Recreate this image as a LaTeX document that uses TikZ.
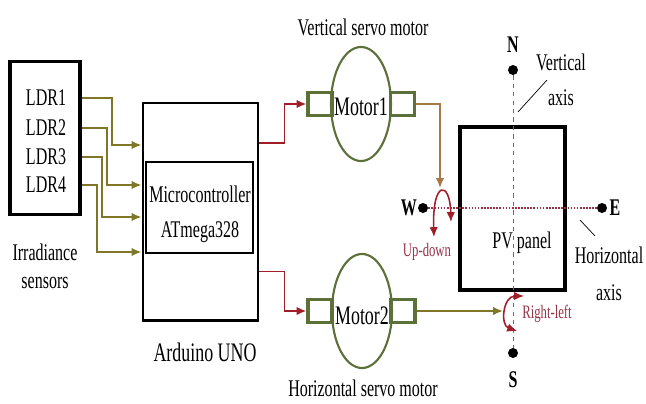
\documentclass[tikz,border=0pt]{standalone}
\usepackage{fontspec}
\setmainfont{Liberation Serif}[FakeStretch=0.67]
\usetikzlibrary{arrows.meta,positioning,shapes.geometric}
\definecolor{sensorolive}{RGB}{128,118,40}
\definecolor{motorgreen}{RGB}{92,112,58}
\definecolor{ctrlred}{RGB}{160,30,40}
\definecolor{shafttan}{RGB}{165,120,70}
\definecolor{labelred}{RGB}{150,50,70}
\definecolor{axisgray}{RGB}{130,100,100}

\begin{document}
\begin{tikzpicture}[x=0.025cm,y=-0.025cm,
    box/.style={draw,line width=2.1pt,inner sep=0pt},
    txt/.style={font=\fontsize{17}{22}\selectfont,inner sep=0pt,align=center},
    bigtxt/.style={font=\fontsize{19}{22}\selectfont,inner sep=0pt,align=center},
    redtxt/.style={font=\fontsize{13.5}{16}\selectfont,text=labelred,inner sep=0pt},
    compass/.style={font=\fontsize{17}{20}\selectfont\bfseries,inner sep=0pt},
    motor/.style={ellipse,draw=motorgreen,line width=1.5pt,minimum width=1.5cm,minimum height=2.85cm,inner sep=0pt},
    shaft/.style={draw=motorgreen,line width=2.2pt,minimum width=0.6cm,minimum height=0.58cm,inner sep=0pt},
    pole/.style={circle,fill=black,inner sep=0pt,minimum size=0.25cm},
    sense/.style={sensorolive,line width=1.3pt,-{Latex[length=7pt,width=6pt]}},
    ctrl/.style={ctrlred,line width=1.3pt,-{Latex[length=7pt,width=6pt]}},
    drive/.style={shafttan,line width=1.2pt,-{Latex[length=7pt,width=6pt]}},
    turn/.style={ctrlred,line width=1.1pt,{Latex[length=7pt,width=6pt]}-{Latex[length=7pt,width=6pt]}},
    leader/.style={black,line width=0.5pt}]
  \useasboundingbox (0,0) rectangle (646,403);

  % sensors
  \node[box,line width=2.8pt,minimum width=1.75cm,minimum height=3.825cm] (ldr) at (45,138) {};
  \foreach \i/\y in {1/98,2/128,3/157,4/185}
    \node[txt] (l\i) at (46,\y) {LDR\i};
  \node[txt,font=\fontsize{17}{20}\selectfont] (irr) at (45,266) {Irradiance\\sensors};

  % board
  \node[box,minimum width=2.875cm,minimum height=5.425cm] (uno) at (200.5,211.5) {};
  \node[box,line width=1.8pt,minimum width=2.675cm,minimum height=2.275cm] (mcu) at (199.5,207.5) {};
  \node[txt,font=\fontsize{17}{25}\selectfont] (mcutxt) at (200,214) {Microcontroller\\ATmega328};
  \node[bigtxt] (unotxt) at (205,352) {Arduino UNO};

  \foreach \i/\y in {1/145,2/185,3/217,4/252}
    \coordinate (in\i) at (uno.west |- 0,\y);
  \foreach \i/\d in {1/30,2/25,3/20,4/15}
    \draw[sense] (ldr.east |- l\i) -- ++(\d,0) |- (in\i);

  % servo motors
  \node[motor] (mot1) at (361,104) {};
  \node[shaft] (m1l) at (320,104) {};
  \node[shaft] (m1r) at (402.5,104) {};
  \node[bigtxt] (m1txt) at (361,107) {Motor1};
  \node[txt] (m1cap) at (363,27) {Vertical servo motor};

  \node[motor] (mot2) at (362,311) {};
  \node[shaft] (m2l) at (320,311) {};
  \node[shaft] (m2r) at (403,311) {};
  \node[bigtxt] (m2txt) at (362,316) {Motor2};
  \node[txt] (m2cap) at (363,388) {Horizontal servo motor};

  \draw[ctrl] ([yshift=1.71cm]uno.east) -- ++(25,0) |- (m1l.west);
  \draw[ctrl] ([yshift=-1.5cm]uno.east) -- ++(25,0) |- (m2l.west);

  % panel and axes
  \node[box,line width=2.6pt,minimum width=2.625cm,minimum height=4.075cm] (pv) at (512.5,208.5) {};
  \node[txt] (pvtxt) at (522,243) {PV panel};

  \node[pole] (n) at (513,70) {};
  \node[pole] (s) at (513,353) {};
  \node[pole] (w) at (423,208) {};
  \node[pole] (e) at (602,208) {};
  \node[compass] (ntxt) at (513,45) {N};
  \node[compass] (stxt) at (513,380) {S};
  \node[compass] (wtxt) at (409,208) {W};
  \node[compass] (etxt) at (615,208) {E};
  \draw[axisgray,dashed,line width=0.6pt] (n) -- (s);
  \draw[labelred,densely dotted,line width=1.2pt] (w) -- (e);

  \node[txt,font=\fontsize{17}{25}\selectfont] (vax) at (561,80) {Vertical\\axis};
  \node[txt,font=\fontsize{17}{26}\selectfont] (hax) at (609,274) {Horizontal\\axis};
  \coordinate (vtip) at (518,112);
  \coordinate (vend) at (547,80);
  \coordinate (htip) at (580,220);
  \coordinate (hend) at (595,236);
  \draw[leader] (vend) -- (vtip);
  \draw[leader] (htip) -- (hend);

  % motion of the panel
  \coordinate (ud) at (440,188);
  \draw[drive] (m1r.east) -| (ud);
  \coordinate (udl) at (434,237);
  \coordinate (udr) at (451,222);
  \draw[turn] (udl) .. controls (432,180) and (450,180) .. (udr);
  \node[redtxt] (udtxt) at (427,252) {Up-down};

  \coordinate (rl) at (503,311);
  \draw[sense] (m2r.east) -- (rl);
  \coordinate (rlt) at (524,296);
  \coordinate (rlb) at (517,331);
  \draw[turn] (rlt) .. controls (503,296) and (500,325) .. (rlb);
  \node[redtxt] (rltxt) at (547,314) {Right-left};
\end{tikzpicture}
\end{document}
